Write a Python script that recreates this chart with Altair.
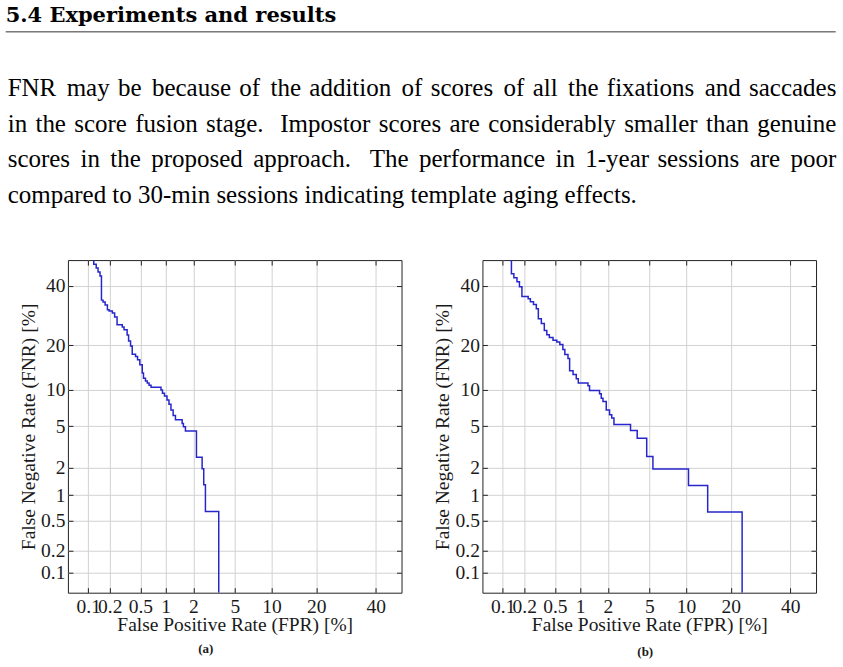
import altair as alt
import pandas as pd
from itertools import cycle
from statistics import NormalDist

# ---------------- page text ----------------
heading = "5.4 Experiments and results"
paragraph = [
    "FNR may be because of the addition of scores of all the fixations and saccades",
    "in the score fusion stage.  Impostor scores are considerably smaller than genuine",
    "scores in the proposed approach.  The performance in 1-year sessions are poor",
    "compared to 30-min sessions indicating template aging effects.",
]
captions = ["(a)", "(b)"]
x_title = "False Positive Rate (FPR) [%]"
y_title = "False Negative Rate (FNR) [%]"

# ---------------- axes (normal-deviate / DET scale) ----------------
tick_pct = [0.1, 0.2, 0.5, 1, 2, 5, 10, 20, 40]
range_pct = [0.05, 50]

# ---------------- DET curve (a): step corners, FPR % / FNR % ----------------
fpr_a = [0.12, 0.13, 0.138, 0.147, 0.154, 0.162, 0.173, 0.186, 0.196, 0.217,
         0.233, 0.251, 0.294, 0.31, 0.34, 0.355, 0.376, 0.395, 0.435, 0.461,
         0.492, 0.527, 0.546, 0.578, 0.607, 0.638, 0.674, 0.883, 0.919, 0.969,
         1.035, 1.09, 1.148, 1.214, 1.288, 1.524, 1.573, 1.653, 2.155, 2.46,
         2.553, 2.654, 3.57, 3.57]
fnr_a = [50, 48.4, 46.9, 45.3, 43.7, 34.6, 33.9, 32.8, 31.2, 30.7,
         30.0, 28.7, 26.1, 25.4, 24.5, 22.9, 21.2, 19.8, 17.6, 17.0,
         16.2, 15.0, 13.2, 12.1, 11.6, 11.2, 10.8, 10.4, 9.95, 9.4,
         8.95, 8.3, 7.7, 6.9, 6.2, 5.7, 5.3, 4.95, 4.55, 2.56,
         1.95, 1.31, 0.644, 0.05]

# ---------------- DET curve (b) ----------------
fpr_b = [0.133, 0.144, 0.159, 0.172, 0.186, 0.226, 0.242, 0.266, 0.29, 0.308,
         0.337, 0.368, 0.396, 0.426, 0.474, 0.528, 0.575, 0.626, 0.661, 0.721,
         0.754, 0.827, 0.902, 0.951, 1.224, 1.274, 1.637, 1.707, 1.78, 1.926,
         2.084, 2.196, 2.312, 3.364, 3.888, 4.744, 5.383, 10.42, 14.26, 23.3,
         23.3]
fnr_b = [50, 44.6, 43.1, 41.5, 39.6, 35.9, 35.1, 34.0, 33.0, 31.5,
         28.1, 26.5, 24.3, 23.0, 22.2, 21.4, 20.9, 20.2, 18.8, 17.5,
         16.5, 13.7, 12.9, 12.0, 11.2, 10.7, 9.85, 9.3, 8.6, 8.1,
         6.9, 6.3, 5.9, 5.2, 4.6, 3.9, 2.6, 1.94, 1.29, 0.636,
         0.05]

# ---------------------------------------------------------------
nd = NormalDist()
z_ticks = [nd.inv_cdf(p / 100) for p in tick_pct]
z_dom = [nd.inv_cdf(range_pct[0] / 100), nd.inv_cdf(range_pct[1] / 100)]

SERIF = "Liberation Serif"
INK = "#1a1a1a"
TICK = "#222222"
GRID = "#d2d2d2"
LINE = "#2626cc"
LABEL_EXPR = "format(cumulativeNormal(datum.value) * 100, '.2~r')"
W, H = 334, 333
FS = 19.5
ORIGIN_X = 67.3   # page x of panel (a)'s plot area (layout origin of the column)

one = pd.DataFrame({"k": [0]})


def det_panel(fpr, fnr, caption, cap_dx, cap_dy, pad_left):
    df = pd.DataFrame({"fpr": fpr, "fnr": fnr, "idx": list(range(len(fpr)))})
    base = alt.Chart(df).transform_calculate(
        zx="quantileNormal(datum.fpr / 100)",
        zy="quantileNormal(datum.fnr / 100)",
    )
    xs = alt.Scale(domain=z_dom, nice=False, zero=False)
    ys = alt.Scale(domain=z_dom, nice=False, zero=False)

    curve = base.mark_line(
        color=LINE, strokeWidth=1.5, interpolate="step-before", clip=True
    ).encode(
        x=alt.X("zx:Q", scale=xs, axis=alt.Axis(
            orient="bottom", values=z_ticks, labelExpr=LABEL_EXPR,
            grid=True, gridColor=GRID, gridWidth=1,
            domain=False, ticks=True, tickSize=5, tickColor=TICK, tickWidth=1,
            offset=-5, labelPadding=19.5, labelBaseline="alphabetic",
            labelFont=SERIF, labelFontSize=FS, labelColor=INK,
            labelOverlap=False, labelFlush=False,
            title=x_title, titleFont=SERIF, titleFontSize=FS,
            titleFontWeight="normal", titleColor=INK,
            titleX=W / 2, titleY=43, titleBaseline="alphabetic", titleAlign="center")),
        y=alt.Y("zy:Q", scale=ys, axis=alt.Axis(
            orient="left", values=z_ticks, labelExpr=LABEL_EXPR,
            grid=True, gridColor=GRID, gridWidth=1,
            domain=False, ticks=True, tickSize=5, tickColor=TICK, tickWidth=1,
            offset=-5, labelPadding=3, labelBaseline="middle", labelAlign="right",
            labelFont=SERIF, labelFontSize=FS, labelColor=INK,
            labelOverlap=False, labelFlush=False,
            title=y_title, titleFont=SERIF, titleFontSize=FS,
            titleFontWeight="normal", titleColor=INK, titleAngle=270,
            titleX=-38.6, titleY=H / 2, titleBaseline="alphabetic", titleAlign="center")),
        order="idx:Q",
    )

    frame_ticks = base.mark_line(opacity=0).encode(
        x=alt.X("zx:Q", scale=xs, axis=alt.Axis(
            orient="top", values=z_ticks, labels=False, grid=False, domain=False,
            ticks=True, tickSize=5, tickColor=TICK, tickWidth=1, offset=-5, title=None)),
        y=alt.Y("zy:Q", scale=ys, axis=alt.Axis(
            orient="right", values=z_ticks, labels=False, grid=False, domain=False,
            ticks=True, tickSize=5, tickColor=TICK, tickWidth=1, offset=-5, title=None)),
        order="idx:Q",
    )

    # invisible layout spacer (reserves the page margin left of the panel)
    spacer = alt.Chart(one).mark_rule(strokeOpacity=0, strokeWidth=1).encode(
        x=alt.value(pad_left), x2=alt.value(0), y=alt.value(10)
    )

    return alt.layer(curve, frame_ticks, spacer).resolve_axis(
        x="independent", y="independent"
    ).properties(
        width=W, height=H,
        view=alt.ViewBackground(stroke=TICK, strokeWidth=1),
        title=alt.TitleParams(
            text=caption, orient="bottom", anchor="middle", frame="group",
            font=SERIF, fontSize=13, fontWeight="bold", color=INK,
            offset=8, dx=cap_dx, dy=cap_dy,
        ),
    )


pa = det_panel(fpr_a, fnr_a, captions[0], -29, 1, -66.8)
pb = det_panel(fpr_b, fnr_b, captions[1], -4, 4, -79.0)

# ---------------- header (running head + paragraph) ----------------
T3 = "\u2004"            # three-per-em space
T3H = "\u2004\u200a"     # three-per-em + hair space
gap_patterns = [[T3H, T3], [T3], [T3H, T3H, T3H, T3H, T3], [" "]]


def justify(line, pattern):
    words = line.split(" ")
    g = cycle(pattern)
    out = words[0]
    for w in words[1:]:
        out += next(g) + w
    return out


para_lines = [justify(l, p) for l, p in zip(paragraph, gap_patterns)]
para_baselines = [96, 131.5, 167, 202.5]

hb = alt.Chart(one)
header_layers = [
    hb.mark_text(
        align="left", baseline="alphabetic", font="DejaVu Serif", fontWeight="bold",
        fontSize=21, color="#000000"
    ).encode(x=alt.value(5 - ORIGIN_X), y=alt.value(21.5), text=alt.value(heading)),
    hb.mark_rule(color="#333333", strokeWidth=1).encode(
        x=alt.value(5 - ORIGIN_X), x2=alt.value(836 - ORIGIN_X), y=alt.value(31.5)
    ),
]
for txt, yb in zip(para_lines, para_baselines):
    header_layers.append(
        hb.mark_text(
            align="left", baseline="alphabetic", font=SERIF, fontSize=25, color="#000000"
        ).encode(x=alt.value(7 - ORIGIN_X), y=alt.value(yb), text=alt.value(txt))
    )

header = alt.layer(*header_layers).properties(
    width=843 - ORIGIN_X, height=250, view=alt.ViewBackground(strokeOpacity=0)
)

panels = alt.hconcat(pa, pb, spacing=0)

chart = alt.vconcat(header, panels, spacing=9).properties(
    padding=0, background="white"
)

chart.save("out.html", embed_options={"renderer": "svg", "actions": False})
